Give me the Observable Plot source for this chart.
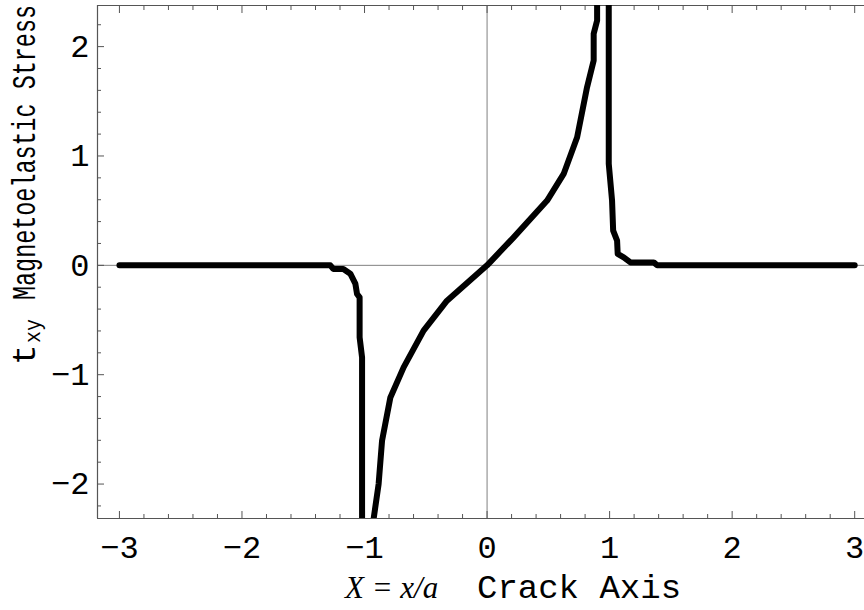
<!DOCTYPE html>
<html>
<head>
<meta charset="utf-8">
<script src="https://cdn.jsdelivr.net/npm/d3@7"></script>
<script src="https://cdn.jsdelivr.net/npm/@observablehq/plot@0.6"></script>
<style>
  html, body { margin: 0; padding: 0; background: white; }
  #chart { width: 864px; height: 610px; }
</style>
</head>
<body>
<div id="chart"></div>
<script>
// ---- data ----
// branch 1: left of the crack tip, going to -infinity at x≈-1
const leftX = [-3.0, -1.279, -1.255, -1.173, -1.116, -1.075, -1.061, -1.040, -1.040, -1.020, -1.020];
const leftY = [0, 0, -0.033, -0.033, -0.076, -0.167, -0.262, -0.293, -0.659, -0.842, -2.6];
// branch 2: inside the crack, from -infinity to +infinity
const midX = [-0.932, -0.926, -0.885, -0.857, -0.789, -0.681, -0.518, -0.327, 0, 0.217, 0.490, 0.625, 0.735, 0.816, 0.870, 0.870, 0.898, 0.898];
const midY = [-2.6, -2.32, -2.0, -1.604, -1.208, -0.933, -0.597, -0.323, 0, 0.256, 0.592, 0.836, 1.171, 1.629, 1.873, 2.117, 2.239, 2.6];
// branch 3: right of the crack tip, from +infinity down to 0
const rightX = [0.993, 0.993, 1.020, 1.029, 1.061, 1.066, 1.115, 1.170, 1.360, 1.388, 3.0];
const rightY = [2.6, 0.928, 0.592, 0.317, 0.226, 0.104, 0.073, 0.027, 0.027, 0, 0];

const xTicks = [-3, -2, -1, 0, 1, 2, 3];
const yTicks = [-2, -1, 0, 1, 2];
const xMinor = d3.range(-15, 16).filter(i => i % 5 !== 0).map(i => i / 5);
const yMinor = d3.range(-11, 12).filter(i => i % 5 !== 0).map(i => i / 5);
const xDomain = [-3.179, 3.080];
const yDomain = [-2.315, 2.376];

const rows = [];
[["left", leftX, leftY], ["mid", midX, midY], ["right", rightX, rightY]].forEach(([name, xs, ys]) => {
  xs.forEach((x, i) => rows.push({branch: name, x, y: ys[i]}));
});

const frameColor = "#555";
const mono = "Liberation Mono, Courier New, monospace";
const fmt = d => (d < 0 ? "\u2212" : "") + Math.abs(d);

const plot = Plot.plot({
  width: 864,
  height: 610,
  marginLeft: 97,
  marginRight: 0,
  marginTop: 5,
  marginBottom: 92,
  style: {background: "white", fontFamily: mono, fontSize: "32px", color: "black"},
  x: {domain: xDomain, axis: null},
  y: {domain: yDomain, axis: null},
  marks: [
    // zero axes
    Plot.ruleX([0], {stroke: "#808080", strokeWidth: 1}),
    Plot.ruleY([0], {stroke: "#808080", strokeWidth: 1}),
    // frame
    Plot.ruleY([yDomain[0], yDomain[1]], {stroke: frameColor, strokeWidth: 1.2}),
    Plot.ruleX([xDomain[0]], {stroke: frameColor, strokeWidth: 1.2}),
    // ticks (inward)
    Plot.axisX(xTicks, {anchor: "bottom", tickSize: -7, text: null, label: null, stroke: frameColor}),
    Plot.axisX(xMinor, {anchor: "bottom", tickSize: -4, text: null, label: null, stroke: frameColor}),
    Plot.axisX(xTicks, {anchor: "top", tickSize: -7, text: null, label: null, stroke: frameColor}),
    Plot.axisX(xMinor, {anchor: "top", tickSize: -4, text: null, label: null, stroke: frameColor}),
    Plot.axisY(yTicks, {anchor: "left", tickSize: -7, text: null, label: null, stroke: frameColor}),
    Plot.axisY(yMinor, {anchor: "left", tickSize: -4, text: null, label: null, stroke: frameColor}),
    // tick labels
    Plot.axisX(xTicks, {anchor: "bottom", tickSize: 0, tickPadding: 17, label: null, tickFormat: fmt,
      fontSize: 32, fontFamily: mono, fill: "black"}),
    Plot.axisY(yTicks, {anchor: "left", tickSize: 0, tickPadding: 8, label: null, tickFormat: fmt,
      fontSize: 32, fontFamily: mono, fill: "black"}),
    // curve
    Plot.line(rows, {x: "x", y: "y", z: "branch", stroke: "black", strokeWidth: 6,
      strokeLinecap: "round", strokeLinejoin: "round", clip: true})
  ]
});

document.getElementById("chart").appendChild(plot);

// axis titles
const svg = d3.select(plot);
// x label: italic serif formula + monospace words
const xl = svg.append("text").attr("y", 598).attr("fill", "black").attr("text-anchor", "start");
xl.append("tspan").attr("x", 345).attr("font-family", "Liberation Serif, Times New Roman, serif")
  .attr("font-style", "italic").attr("font-size", 31).text("X = x/a");
xl.append("tspan").attr("x", 477).attr("font-family", mono).attr("font-size", 34).text("Crack Axis");

// y label (rotated)
const yl = svg.append("g").attr("transform", "translate(35,365) rotate(-90)")
  .attr("fill", "black").attr("font-family", mono).attr("text-anchor", "start");
yl.append("text").attr("x", 0).attr("font-size", 34).text("t");
yl.append("text").attr("x", 22).attr("y", 5).attr("font-size", 22)
  .attr("textLength", 24).attr("lengthAdjust", "spacingAndGlyphs").text("xy");
yl.append("text").attr("x", 65).attr("font-size", 34)
  .attr("textLength", 295).attr("lengthAdjust", "spacingAndGlyphs").text("Magnetoelastic Stress");
</script>
</body>
</html>
